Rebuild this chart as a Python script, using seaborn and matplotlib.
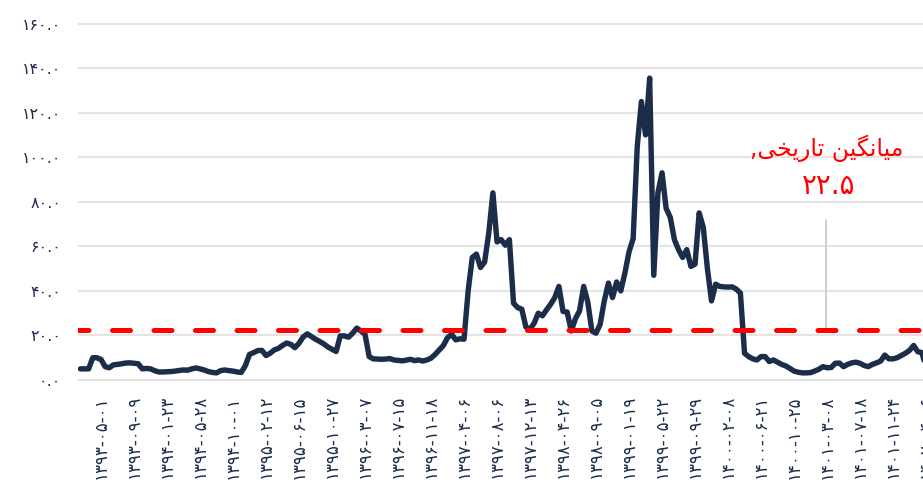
import matplotlib
matplotlib.use("Agg")
import matplotlib.pyplot as plt
import pandas as pd
import seaborn as sns
from matplotlib import font_manager
from fontTools.ttLib import TTFont

# ---------------- data ----------------
values = [
    5.0, 5.0, 5.0, 10.0, 10.0, 9.2, 6.0, 5.5, 6.8, 7.0,
    7.3, 7.6, 7.7, 7.5, 7.3, 5.0, 5.2, 5.0, 4.2, 3.6,
    3.6, 3.7, 3.8, 4.0, 4.3, 4.5, 4.4, 5.0, 5.4, 5.0,
    4.5, 3.8, 3.4, 3.2, 4.2, 4.5, 4.2, 4.0, 3.6, 3.4,
    6.5, 11.5, 12.3, 13.2, 13.3, 11.0, 12.0, 13.5, 14.2, 15.5,
    16.6, 16.0, 14.5, 16.5, 19.3, 20.7, 19.5, 18.3, 17.3, 16.2,
    14.8, 13.8, 12.8, 19.8, 19.8, 19.2, 21.0, 23.3, 22.0, 20.5,
    10.5, 9.5, 9.4, 9.3, 9.4, 9.6, 9.0, 8.8, 8.6, 8.9,
    9.3, 8.7, 9.0, 8.5, 9.0, 9.8, 11.5, 13.5, 15.5, 19.0,
    20.5, 18.0, 18.5, 18.3, 40.0, 55.0, 56.5, 50.5, 53.0, 66.0,
    84.0, 62.0, 63.0, 60.5, 63.0, 34.5, 32.5, 31.8, 23.8, 22.8,
    25.5, 30.0, 28.8, 31.5, 34.0, 37.0, 42.0, 30.8, 30.5, 22.0,
    27.5, 31.0, 42.0, 35.0, 22.0, 21.0, 25.0, 35.5, 43.5, 37.0,
    44.0, 40.0, 48.0, 57.5, 63.5, 105.0, 125.0, 110.0, 135.5, 47.0,
    84.0, 93.0, 77.0, 73.0, 63.0, 58.5, 55.0, 58.5, 51.0, 52.0,
    75.0, 68.5, 50.0, 35.5, 43.0, 42.0, 41.8, 41.7, 41.8, 40.8,
    39.0, 12.0, 10.5, 9.5, 9.0, 10.5, 10.5, 8.3, 9.0, 8.0,
    7.0, 6.3, 5.2, 4.0, 3.5, 3.2, 3.2, 3.3, 4.0, 4.8,
    6.0, 5.5, 5.6, 7.5, 7.6, 6.0, 7.0, 7.7, 8.0, 7.5,
    6.5, 6.0, 7.0, 7.7, 8.5, 11.2, 9.5, 9.5, 10.0, 11.0,
    12.0, 13.3, 15.5, 12.7, 12.3, 5.5,
]

tick_labels = [
    "۱۳۹۳-۰۵-۰۱", "۱۳۹۳-۰۹-۰۹", "۱۳۹۴-۰۱-۲۳", "۱۳۹۴-۰۵-۲۸", "۱۳۹۴-۱۰-۰۱",
    "۱۳۹۵-۰۲-۱۲", "۱۳۹۵-۰۶-۱۵", "۱۳۹۵-۱۰-۲۷", "۱۳۹۶-۰۳-۰۷", "۱۳۹۶-۰۷-۱۵",
    "۱۳۹۶-۱۱-۱۸", "۱۳۹۷-۰۴-۰۶", "۱۳۹۷-۰۸-۰۶", "۱۳۹۷-۱۲-۱۳", "۱۳۹۸-۰۴-۲۶",
    "۱۳۹۸-۰۹-۰۵", "۱۳۹۹-۰۱-۱۹", "۱۳۹۹-۰۵-۲۲", "۱۳۹۹-۰۹-۲۹", "۱۴۰۰-۰۲-۰۸",
    "۱۴۰۰-۰۶-۲۱", "۱۴۰۰-۱۰-۲۵", "۱۴۰۱-۰۳-۰۸", "۱۴۰۱-۰۷-۱۸", "۱۴۰۱-۱۱-۲۴",
    "۱۴۰۲-۰۴-۰۶",
]
tick_first = 5
tick_step = 8

y_ticks = [0, 20, 40, 60, 80, 100, 120, 140, 160]
mean_value = 22.5
mean_label = "میانگین تاریخی,"
mean_value_label = "۲۲.۵"

# ---------------- helpers ----------------
PERSIAN_DIGITS = str.maketrans("0123456789", "۰۱۲۳۴۵۶۷۸۹")

font_path = font_manager.findfont("DejaVu Sans")
cmap = TTFont(font_path).getBestCmap()

FORMS = {  # isolated, final, initial, medial
    "ا": ("\uFE8D", "\uFE8E", None, None),
    "ر": ("\uFEAD", "\uFEAE", None, None),
    "م": ("\uFEE1", "\uFEE2", "\uFEE3", "\uFEE4"),
    "ن": ("\uFEE5", "\uFEE6", "\uFEE7", "\uFEE8"),
    "ت": ("\uFE95", "\uFE96", "\uFE97", "\uFE98"),
    "خ": ("\uFEA5", "\uFEA6", "\uFEA7", "\uFEA8"),
    "گ": ("\uFB92", "\uFB93", "\uFB94", "\uFB95"),
    "ی": ("\uFBFC", "\uFBFD", "\uFBFE", "\uFBFF"),
}
if 0xFBFC not in cmap:
    FORMS["ی"] = ("\uFEEF", "\uFEF0", "\uFEF3", "\uFEF4")


def shape_rtl(text):
    out = []
    n = len(text)
    for i, c in enumerate(text):
        if c not in FORMS:
            out.append(c)
            continue
        iso, fin, ini, med = FORMS[c]
        prev = text[i - 1] if i > 0 else None
        nxt = text[i + 1] if i < n - 1 else None
        pj = prev in FORMS and FORMS[prev][2] is not None
        nj = nxt in FORMS and ini is not None
        if pj and nj:
            out.append(med)
        elif pj:
            out.append(fin)
        elif nj:
            out.append(ini)
        else:
            out.append(iso)
    return "".join(out)[::-1]


# ---------------- plot ----------------
sns.set_theme(style="white")
plt.rcParams["font.family"] = ["DejaVu Sans"]

W, H = 923, 484
px_per_idx = 4.125
x0_px = 80.4           # pixel of index 0
y0_px = 380.0          # pixel of value 0
px_per_val = 2.228

fig = plt.figure(figsize=(W / 100, H / 100), dpi=100)
ax_left_px, ax_right_px = 78, 930
ylo, yhi = -0.5, 161
bot_px = y0_px - ylo * px_per_val
top_px = y0_px - yhi * px_per_val
ax = fig.add_axes([ax_left_px / W, (H - bot_px) / H,
                   (ax_right_px - ax_left_px) / W, (bot_px - top_px) / H])

df = pd.DataFrame({"idx": range(len(values)), "value": values})
sns.lineplot(data=df, x="idx", y="value", ax=ax, color="#1c2d4a",
             linewidth=3.9, zorder=3)
for ln in ax.get_lines():
    ln.set_solid_joinstyle("round")
    ln.set_solid_capstyle("round")

ax.axhline(mean_value, color="#ff0000", linewidth=3.6,
           linestyle=(1.5, (3.6, 4.7)), dash_capstyle="round", zorder=4)

ax.set_xlim((ax_left_px - x0_px) / px_per_idx, (ax_right_px - x0_px) / px_per_idx)
ax.set_ylim(ylo, yhi)

tick_pos = [tick_first + tick_step * k for k in range(len(tick_labels))]
ax.set_xticks(tick_pos)
ax.set_xticklabels(tick_labels, rotation=90, fontsize=12, color="#1f2d4d")
ax.set_yticks(y_ticks)
ax.set_yticklabels([f"{v:.1f}".translate(PERSIAN_DIGITS) for v in y_ticks],
                   fontsize=11.5, color="#1f2d4d")
ax.tick_params(axis="x", length=0, pad=10)
ax.tick_params(axis="y", length=0, pad=12)
ax.set_xlabel("")
ax.set_ylabel("")

ax.yaxis.grid(True, color="#e4e4e4", linewidth=1.5)
ax.xaxis.grid(False)
ax.set_axisbelow(True)
for s in ax.spines.values():
    s.set_visible(False)

# annotation
ann_idx = (826 - x0_px) / px_per_idx
ax.plot([ann_idx, ann_idx], [mean_value, 71.8], color="#cccccc",
        linewidth=1.3, zorder=2)
txt_idx = (827 - x0_px) / px_per_idx
ax.text(txt_idx, (y0_px - 148) / px_per_val, shape_rtl(mean_label),
        ha="center", va="center", fontsize=17, color="#ff0000")
ax.text(txt_idx + 0.3, (y0_px - 186) / px_per_val, mean_value_label,
        ha="center", va="center", fontsize=20, color="#ff0000")

fig.savefig("out.png", dpi=100)
